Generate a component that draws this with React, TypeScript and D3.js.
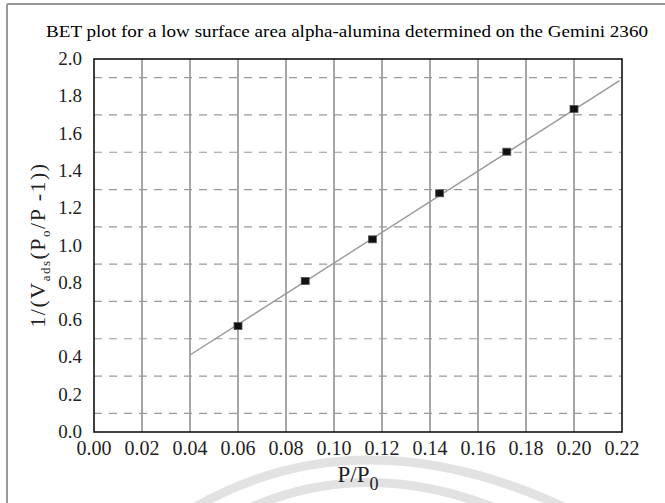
import React, { useEffect, useRef } from "react";
import * as d3 from "d3";

const relPressure = [0.06, 0.088, 0.116, 0.144, 0.172, 0.2];
const betValue = [0.568, 0.81, 1.033, 1.28, 1.503, 1.732];
const fitX = [0.04, 0.219];
const fitY = [0.413, 1.884];
const xTicks = [0, 0.02, 0.04, 0.06, 0.08, 0.1, 0.12, 0.14, 0.16, 0.18, 0.2, 0.22];
const yTicks = [0, 0.2, 0.4, 0.6, 0.8, 1.0, 1.2, 1.4, 1.6, 1.8, 2.0];
const yGrid = [0.1, 0.3, 0.5, 0.7, 0.9, 1.1, 1.3, 1.5, 1.7, 1.9];

const W = 665, H = 503;
const FONT = "'Liberation Serif', 'Times New Roman', serif";

export default function App() {
  const ref = useRef<SVGSVGElement>(null);

  useEffect(() => {
    const svg = d3.select(ref.current);
    svg.selectAll("*").remove();

    const margin = { top: 59, right: 43, bottom: 71, left: 94 };
    const x = d3.scaleLinear().domain([0, 0.22]).range([margin.left, W - margin.right]);
    const y = d3.scaleLinear().domain([0, 2]).range([H - margin.bottom, margin.top]);

    svg.append("rect").attr("width", W).attr("height", H).attr("fill", "#fff");

    // faint watermark arcs at the bottom
    const wm = svg.append("g").attr("fill", "none").attr("stroke", "#e2e2e2").attr("stroke-width", 9);
    wm.append("path").attr("d", "M 190 510 Q 360 410 570 510");
    wm.append("path").attr("d", "M 245 510 Q 365 455 500 510");

    // outer frame
    svg.append("line").attr("x1", 7).attr("x2", W).attr("y1", 4).attr("y2", 4)
      .attr("stroke", "#999").attr("stroke-width", 2);
    svg.append("line").attr("x1", 7).attr("x2", 7).attr("y1", 4).attr("y2", H)
      .attr("stroke", "#999").attr("stroke-width", 2);

    // title
    svg.append("text")
      .attr("x", 347).attr("y", 37)
      .attr("text-anchor", "middle")
      .attr("font-family", FONT).attr("font-size", 17)
      .attr("textLength", 602).attr("lengthAdjust", "spacingAndGlyphs")
      .text("BET plot for a low surface area alpha-alumina determined on the Gemini 2360");

    // vertical grid
    svg.append("g").selectAll("line")
      .data(xTicks.slice(1, -1))
      .enter().append("line")
      .attr("x1", d => x(d)).attr("x2", d => x(d))
      .attr("y1", y(2)).attr("y2", y(0))
      .attr("stroke", "#777").attr("stroke-width", 1.3);

    // horizontal dashed grid
    svg.append("g").selectAll("line")
      .data(yGrid)
      .enter().append("line")
      .attr("x1", x(0)).attr("x2", x(0.22))
      .attr("y1", d => y(d)).attr("y2", d => y(d))
      .attr("stroke", "#999").attr("stroke-width", 1.2)
      .attr("stroke-dasharray", "8,7");

    // plot border
    svg.append("rect")
      .attr("x", x(0)).attr("y", y(2))
      .attr("width", x(0.22) - x(0)).attr("height", y(0) - y(2))
      .attr("fill", "none").attr("stroke", "#111").attr("stroke-width", 1.6);

    // tick labels
    svg.append("g").selectAll("text")
      .data(xTicks)
      .enter().append("text")
      .attr("x", d => x(d)).attr("y", y(0) + 23)
      .attr("text-anchor", "middle")
      .attr("font-family", FONT).attr("font-size", 20).attr("fill", "#222")
      .text(d => d3.format(".2f")(d));

    svg.append("g").selectAll("text")
      .data(yTicks)
      .enter().append("text")
      .attr("x", x(0) - 12).attr("y", d => y(d) + 6)
      .attr("text-anchor", "end")
      .attr("font-family", FONT).attr("font-size", 19).attr("fill", "#222")
      .text(d => d3.format(".1f")(d));

    // axis titles
    const xl = svg.append("text")
      .attr("x", 358).attr("y", 482)
      .attr("text-anchor", "middle")
      .attr("font-family", FONT).attr("font-size", 23).attr("fill", "#222");
    xl.append("tspan").text("P/P");
    xl.append("tspan").attr("dy", 8).attr("font-size", 18).text("0");

    const yl = svg.append("text")
      .attr("transform", "translate(45,245) rotate(-90)")
      .attr("text-anchor", "middle")
      .attr("letter-spacing", 1.5)
      .attr("font-family", FONT).attr("font-size", 22).attr("fill", "#222");
    yl.append("tspan").text("1/(V");
    yl.append("tspan").attr("dy", 5).attr("font-size", 13).text("ads");
    yl.append("tspan").attr("dy", -5).text("(P");
    yl.append("tspan").attr("dy", 5).attr("font-size", 13).text("o");
    yl.append("tspan").attr("dy", -5).text("/P -1))");

    // fitted line
    const line = d3.line<number>().x((d, i) => x(fitX[i])).y(d => y(d));
    svg.append("path")
      .datum(fitY)
      .attr("d", line)
      .attr("fill", "none").attr("stroke", "#999").attr("stroke-width", 1.4);

    // data points
    svg.append("g").selectAll("rect")
      .data(relPressure)
      .enter().append("rect")
      .attr("x", d => x(d) - 4).attr("y", (d, i) => y(betValue[i]) - 3.5)
      .attr("width", 8).attr("height", 7)
      .attr("fill", "#111").attr("stroke", "#555").attr("stroke-width", 0.8);
  }, []);

  return (
    <svg ref={ref} width={W} height={H}
      style={{ position: "absolute", left: 0, top: 0, display: "block" }} />
  );
}
